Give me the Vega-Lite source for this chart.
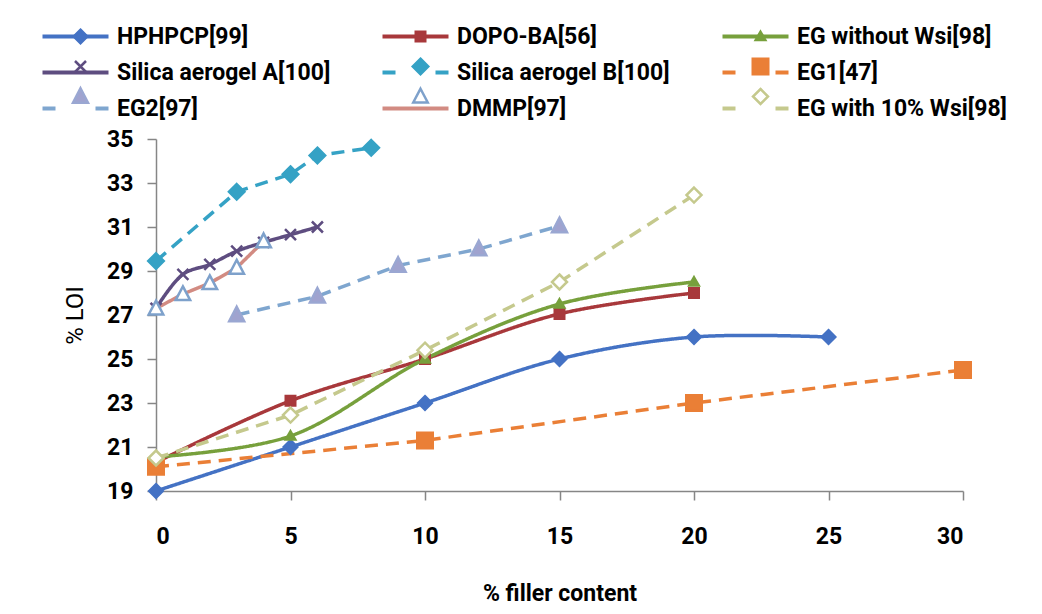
{
  "$schema": "https://vega.github.io/schema/vega-lite/v6.json",
  "width": 807,
  "height": 352,
  "autosize": {"type": "none"},
  "padding": {"left": 156, "top": 139, "right": 79, "bottom": 123},
  "background": "#ffffff",
  "data": {
    "values": [
      {"s": "HPHPCP[99]", "x": 0, "y": 19},
      {"s": "HPHPCP[99]", "x": 5, "y": 21},
      {"s": "HPHPCP[99]", "x": 10, "y": 23},
      {"s": "HPHPCP[99]", "x": 15, "y": 25},
      {"s": "HPHPCP[99]", "x": 20, "y": 26},
      {"s": "HPHPCP[99]", "x": 25, "y": 26},
      {"s": "DOPO-BA[56]", "x": 0, "y": 20.3},
      {"s": "DOPO-BA[56]", "x": 5, "y": 23.1},
      {"s": "DOPO-BA[56]", "x": 10, "y": 25},
      {"s": "DOPO-BA[56]", "x": 15, "y": 27.05},
      {"s": "DOPO-BA[56]", "x": 20, "y": 28},
      {"s": "EG without Wsi[98]", "x": 0, "y": 20.55},
      {"s": "EG without Wsi[98]", "x": 5, "y": 21.5},
      {"s": "EG without Wsi[98]", "x": 10, "y": 25},
      {"s": "EG without Wsi[98]", "x": 15, "y": 27.5},
      {"s": "EG without Wsi[98]", "x": 20, "y": 28.5},
      {"s": "Silica aerogel A[100]", "x": 0, "y": 27.3},
      {"s": "Silica aerogel A[100]", "x": 1, "y": 28.85},
      {"s": "Silica aerogel A[100]", "x": 2, "y": 29.3},
      {"s": "Silica aerogel A[100]", "x": 3, "y": 29.9},
      {"s": "Silica aerogel A[100]", "x": 4, "y": 30.3},
      {"s": "Silica aerogel A[100]", "x": 5, "y": 30.65},
      {"s": "Silica aerogel A[100]", "x": 6, "y": 31},
      {"s": "Silica aerogel B[100]", "x": 0, "y": 29.45},
      {"s": "Silica aerogel B[100]", "x": 3, "y": 32.6},
      {"s": "Silica aerogel B[100]", "x": 5, "y": 33.4},
      {"s": "Silica aerogel B[100]", "x": 6, "y": 34.25},
      {"s": "Silica aerogel B[100]", "x": 8, "y": 34.6},
      {"s": "EG1[47]", "x": 0, "y": 20.1},
      {"s": "EG1[47]", "x": 10, "y": 21.3},
      {"s": "EG1[47]", "x": 20, "y": 23},
      {"s": "EG1[47]", "x": 30, "y": 24.5},
      {"s": "EG2[97]", "x": 3, "y": 27},
      {"s": "EG2[97]", "x": 6, "y": 27.85},
      {"s": "EG2[97]", "x": 9, "y": 29.25},
      {"s": "EG2[97]", "x": 12, "y": 30},
      {"s": "EG2[97]", "x": 15, "y": 31.05},
      {"s": "DMMP[97]", "x": 0, "y": 27.3},
      {"s": "DMMP[97]", "x": 1, "y": 27.95},
      {"s": "DMMP[97]", "x": 2, "y": 28.45},
      {"s": "DMMP[97]", "x": 3, "y": 29.15},
      {"s": "DMMP[97]", "x": 4, "y": 30.35},
      {"s": "EG with 10% Wsi[98]", "x": 0, "y": 20.5},
      {"s": "EG with 10% Wsi[98]", "x": 5, "y": 22.45},
      {"s": "EG with 10% Wsi[98]", "x": 10, "y": 25.4},
      {"s": "EG with 10% Wsi[98]", "x": 15, "y": 28.5},
      {"s": "EG with 10% Wsi[98]", "x": 20, "y": 32.45}
    ]
  },
  "encoding": {
    "x": {
      "field": "x", "type": "quantitative",
      "scale": {"domain": [0, 30], "nice": false, "zero": false},
      "axis": {
        "title": "% filler content",
        "values": [0, 5, 10, 15, 20, 25, 30],
        "tickSize": 9,
        "labelPadding": 36,
        "labelBaseline": "middle",
        "titleY": 102,
        "titleBaseline": "middle",
        "titleFontWeight": "bold"
      }
    },
    "y": {
      "field": "y", "type": "quantitative",
      "scale": {"domain": [19, 35], "nice": false, "zero": false},
      "axis": {
        "title": "% LOI",
        "values": [19, 21, 23, 25, 27, 29, 31, 33, 35],
        "tickSize": 9,
        "labelPadding": 14,
        "titleX": -81,
        "titleY": 176,
        "titleAngle": -90,
        "titleAlign": "center",
        "titleBaseline": "middle",
        "titleFontWeight": "normal",
        "titleFontSize": 24
      }
    }
  },
  "layer": [
    {
      "transform": [{"filter": {"field": "s", "oneOf": ["HPHPCP[99]", "DOPO-BA[56]", "EG without Wsi[98]", "Silica aerogel A[100]"]}}],
      "mark": {"type": "line", "interpolate": "catmull-rom", "strokeWidth": 3.5},
      "encoding": {
        "color": {
          "field": "s", "type": "nominal",
          "scale": {
            "domain": ["HPHPCP[99]", "DOPO-BA[56]", "EG without Wsi[98]", "Silica aerogel A[100]", "Silica aerogel B[100]", "EG1[47]", "EG2[97]", "DMMP[97]", "EG with 10% Wsi[98]"],
            "range": ["#4472C4", "#A8383B", "#77A03C", "#5E4D80", "#35A2C5", "#EA7F36", "#7FA6CF", "#D28B82", "#C5C98D"]
          },
          "legend": {
            "orient": "none", "legendX": -92, "legendY": -114, "direction": "horizontal",
            "columns": 3, "gridAlign": "all", "columnPadding": 43, "rowPadding": 1,
            "symbolSize": 100, "symbolStrokeWidth": 4, "symbolOpacity": 1,
            "symbolFillColor": "transparent",
            "symbolType": {"expr": "indexof(['Silica aerogel B[100]','EG1[47]','EG2[97]','EG with 10% Wsi[98]'], datum.value) >= 0 ? 'M-6.6,-1.9M6.6,1.9M-6.6,0H-4M4,0H6.6' : 'M-6.6,-1.9M6.6,1.9M-6.6,0H6.6'"},
            "labelFont": "Roboto", "labelFontSize": 23, "labelFontWeight": "bold", "labelColor": "#000000",
            "labelOffset": 30, "labelLimit": 400, "labelBaseline": "middle",
            "title": null, "padding": 0
          }
        },
        "strokeDash": {
          "field": "s", "type": "nominal", "sort": null, "legend": null,
          "scale": {
            "range": [[1, 0], [1, 0], [1, 0], [1, 0], [13, 8], [13, 8], [13, 8], [1, 0], [13, 8]]
          }
        }
      }
    },
    {
      "transform": [{"filter": {"field": "s", "oneOf": ["Silica aerogel B[100]", "EG1[47]", "EG2[97]", "DMMP[97]", "EG with 10% Wsi[98]"]}}],
      "mark": {"type": "line", "interpolate": "linear", "strokeWidth": 3.5},
      "encoding": {
        "color": {"field": "s", "type": "nominal"},
        "strokeDash": {"field": "s", "type": "nominal", "sort": null, "legend": null}
      }
    },
    {
      "mark": {"type": "point", "size": 100, "strokeWidth": 2.5, "opacity": 1},
      "encoding": {
        "shape": {
          "field": "s", "type": "nominal", "sort": null,
          "scale": {
            "range": [
              "M-6.6,-1.9M6.6,1.9M0,-1.35L1.35,0L0,1.35L-1.35,0Z",
              "M-6.6,-1.9M6.6,1.9M-0.95,-0.95H0.95V0.95H-0.95Z",
              "M-6.6,-1.9M6.6,1.9M0,-0.95L0.95,0.7L-0.95,0.7Z",
              "M-6.6,-1.9M6.6,1.9M-1.1,-1.1L1.1,1.1M1.1,-1.1L-1.1,1.1",
              "M-6.6,-1.9M6.6,1.9M0,-1.55L1.55,0L0,1.55L-1.55,0Z",
              "M-6.6,-1.9M6.6,1.9M-1.55,-1.55H1.55V1.55H-1.55Z",
              "M-6.6,-1.9M6.6,1.9M0,-1.65L1.5,1.25L-1.5,1.25Z",
              "M-6.6,-1.9M6.6,1.9M0,-1.55L1.45,1.2L-1.45,1.2Z",
              "M-6.6,-1.9M6.6,1.9M0,-1.5L1.5,0L0,1.5L-1.5,0Z"
            ]
          },
          "legend": {
            "orient": "none", "legendX": -87, "legendY": -114, "direction": "horizontal",
            "columns": 3, "gridAlign": "all", "columnPadding": 260, "rowPadding": 1,
            "symbolSize": 100, "symbolStrokeWidth": 2.5, "symbolOpacity": 1,
            "labelFont": "Roboto", "labelFontSize": 23, "labelFontWeight": "bold",
            "labelOffset": 30, "labelLimit": 400, "labelExpr": "''", "labelBaseline": "middle",
            "title": null, "padding": 0
          }
        },
        "fill": {
          "field": "s", "type": "nominal", "sort": null,
          "scale": {
            "range": ["#4472C4", "#A8383B", "#77A03C", "transparent", "#35A2C5", "#EA7F36", "#A0A3CF", "#FFFFFF", "#FFFFFF"]
          },
          "legend": {
            "orient": "none", "legendX": -87, "legendY": -114, "direction": "horizontal",
            "columns": 3, "gridAlign": "all", "columnPadding": 260, "rowPadding": 1,
            "symbolSize": 100, "symbolStrokeWidth": 2.5, "symbolOpacity": 1,
            "labelFont": "Roboto", "labelFontSize": 23, "labelFontWeight": "bold",
            "labelOffset": 30, "labelLimit": 400, "labelExpr": "''", "labelBaseline": "middle",
            "title": null, "padding": 0
          }
        },
        "stroke": {
          "field": "s", "type": "nominal", "sort": null,
          "scale": {
            "range": ["#4472C4", "#A8383B", "#77A03C", "#5E4D80", "#35A2C5", "#EA7F36", "#9AA7D2", "#7EA1CB", "#C5C98D"]
          },
          "legend": {
            "orient": "none", "legendX": -87, "legendY": -114, "direction": "horizontal",
            "columns": 3, "gridAlign": "all", "columnPadding": 260, "rowPadding": 1,
            "symbolSize": 100, "symbolStrokeWidth": 2.5, "symbolOpacity": 1,
            "labelFont": "Roboto", "labelFontSize": 23, "labelFontWeight": "bold",
            "labelOffset": 30, "labelLimit": 400, "labelExpr": "''", "labelBaseline": "middle",
            "title": null, "padding": 0
          }
        }
      }
    }
  ],
  "config": {
    "view": {"stroke": null},
    "font": "Roboto",
    "axis": {
      "grid": false,
      "domainColor": "#868686",
      "domainWidth": 1.5,
      "tickColor": "#868686",
      "tickWidth": 1.5,
      "labelFont": "Roboto",
      "labelFontSize": 23,
      "labelFontWeight": "bold",
      "labelColor": "#000000",
      "titleFont": "Roboto",
      "titleFontSize": 23,
      "titleColor": "#000000"
    }
  }
}
